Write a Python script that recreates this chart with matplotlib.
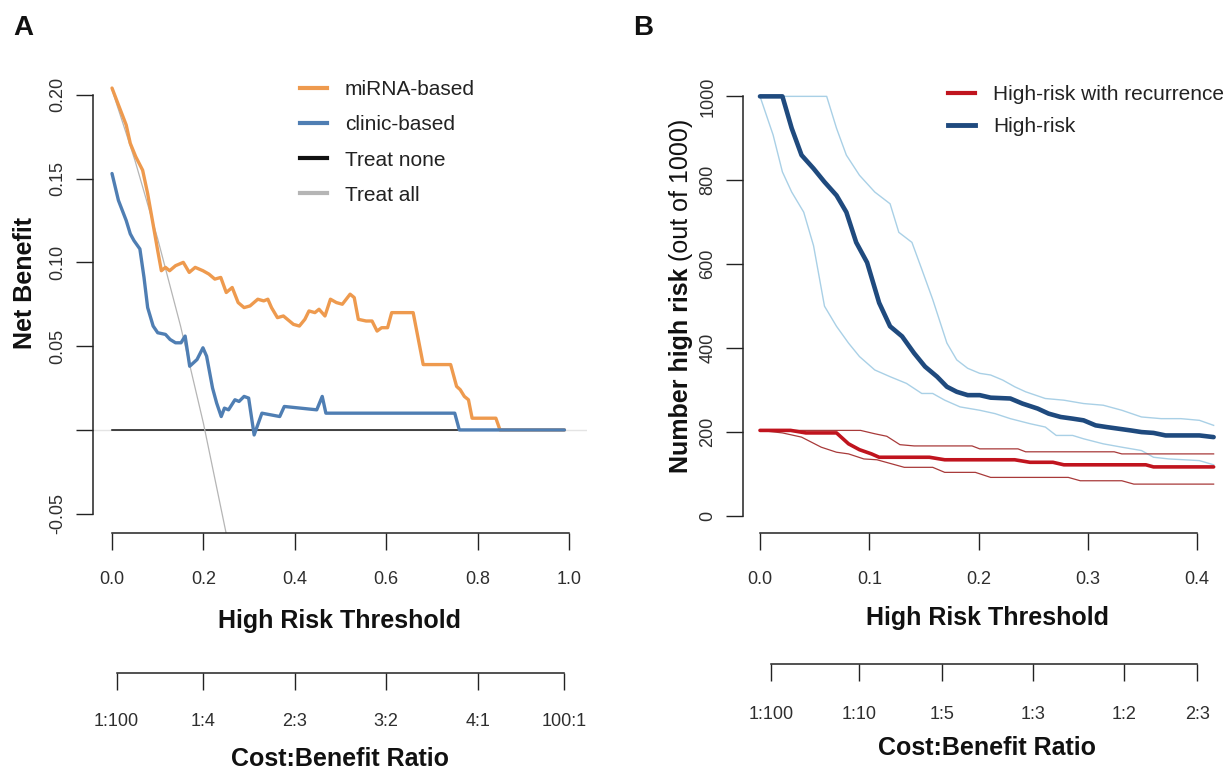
import matplotlib
matplotlib.use("Agg")
import matplotlib.pyplot as plt
from matplotlib.lines import Line2D

plt.rcParams['font.family'] = ['Liberation Sans', 'DejaVu Sans']

# ---------------- Panel A: decision curves ----------------
thr_mirna = [0.000, 0.014, 0.031, 0.040, 0.052, 0.067, 0.078, 0.091, 0.100, 0.108,
             0.117, 0.126, 0.139, 0.156, 0.169, 0.182, 0.199, 0.212, 0.225, 0.238,
             0.250, 0.263, 0.276, 0.289, 0.302, 0.319, 0.332, 0.341, 0.349, 0.362,
             0.375, 0.397, 0.410, 0.422, 0.431, 0.444, 0.453, 0.466, 0.478, 0.491,
             0.504, 0.521, 0.530, 0.539, 0.556, 0.569, 0.580, 0.590, 0.603, 0.612,
             0.659, 0.681, 0.741, 0.754, 0.762, 0.771, 0.780, 0.788, 0.840, 0.849,
             0.990]
nb_mirna = [0.204, 0.194, 0.182, 0.171, 0.163, 0.155, 0.141, 0.121, 0.107, 0.095,
            0.097, 0.095, 0.098, 0.100, 0.094, 0.097, 0.095, 0.093, 0.090, 0.091,
            0.082, 0.085, 0.076, 0.073, 0.074, 0.078, 0.077, 0.078, 0.073, 0.067,
            0.068, 0.063, 0.062, 0.066, 0.071, 0.070, 0.072, 0.068, 0.078, 0.076,
            0.075, 0.081, 0.079, 0.066, 0.065, 0.065, 0.059, 0.061, 0.061, 0.070,
            0.070, 0.039, 0.039, 0.026, 0.024, 0.020, 0.018, 0.007, 0.007, 0.000,
            0.000]

thr_clinic = [0.000, 0.014, 0.031, 0.040, 0.048, 0.061, 0.070, 0.078, 0.090, 0.100,
              0.117, 0.127, 0.139, 0.151, 0.160, 0.170, 0.186, 0.199, 0.207, 0.220,
              0.229, 0.239, 0.246, 0.255, 0.269, 0.278, 0.289, 0.299, 0.311, 0.328,
              0.367, 0.377, 0.448, 0.460, 0.468, 0.750, 0.760, 0.990]
nb_clinic = [0.153, 0.137, 0.125, 0.117, 0.113, 0.108, 0.091, 0.073, 0.062, 0.058,
             0.057, 0.054, 0.052, 0.052, 0.056, 0.038, 0.042, 0.049, 0.044, 0.025,
             0.016, 0.008, 0.013, 0.012, 0.018, 0.017, 0.020, 0.019, -0.003, 0.010,
             0.008, 0.014, 0.012, 0.020, 0.010, 0.010, 0.000, 0.000]

thr_all = [0.00, 0.05, 0.10, 0.15, 0.20, 0.25, 0.27]
nb_all = [0.203, 0.161, 0.114, 0.062, 0.004, -0.062, -0.090]

thr_none = [0.00, 0.99]
nb_none = [0.0, 0.0]

a_legend = ['miRNA-based', 'clinic-based', 'Treat none', 'Treat all']
a_xticks = [0.0, 0.2, 0.4, 0.6, 0.8, 1.0]
a_xticklabels = ['0.0', '0.2', '0.4', '0.6', '0.8', '1.0']
a_yticks = [-0.05, 0.00, 0.05, 0.10, 0.15, 0.20]
a_yticklabels = ['-0.05', '', '0.05', '0.10', '0.15', '0.20']
a_ratios = [(1, 100), (1, 4), (2, 3), (3, 2), (4, 1), (100, 1)]

# ---------------- Panel B: clinical impact ----------------
thr_hr = [0.000, 0.0205, 0.029, 0.038, 0.049, 0.059, 0.070, 0.079, 0.088, 0.098,
          0.109, 0.119, 0.130, 0.141, 0.151, 0.162, 0.171, 0.180, 0.190, 0.201,
          0.211, 0.229, 0.240, 0.254, 0.264, 0.275, 0.286, 0.296, 0.307, 0.317,
          0.328, 0.339, 0.349, 0.360, 0.371, 0.402, 0.415]
n_hr = [1000, 1000, 924, 860, 828, 796, 764, 724, 652, 604,
        508, 452, 428, 388, 356, 332, 308, 296, 288, 288,
        282, 280, 268, 256, 244, 236, 232, 228, 216, 212,
        208, 204, 200, 198, 192, 192, 188]

thr_hr_hi = [0.000, 0.061, 0.070, 0.079, 0.091, 0.105, 0.119, 0.127, 0.139, 0.148,
             0.158, 0.171, 0.180, 0.190, 0.201, 0.211, 0.222, 0.233, 0.243, 0.261,
             0.278, 0.296, 0.314, 0.331, 0.349, 0.367, 0.385, 0.402, 0.415]
n_hr_hi = [1000, 1000, 924, 860, 812, 772, 744, 676, 652, 588,
           516, 412, 372, 352, 340, 336, 324, 308, 296, 280,
           276, 268, 264, 252, 236, 232, 232, 228, 216]

thr_hr_lo = [0.000, 0.012, 0.0205, 0.029, 0.040, 0.049, 0.059, 0.070, 0.081, 0.091,
             0.105, 0.119, 0.134, 0.148, 0.158, 0.169, 0.183, 0.201, 0.215, 0.229,
             0.247, 0.261, 0.271, 0.286, 0.296, 0.314, 0.331, 0.349, 0.360, 0.374,
             0.402, 0.415]
n_hr_lo = [1000, 908, 820, 772, 724, 644, 500, 452, 412, 380,
           348, 332, 316, 292, 292, 276, 260, 252, 244, 232,
           220, 212, 192, 192, 184, 172, 164, 156, 140, 136,
           132, 122]

thr_rec = [0.000, 0.028, 0.042, 0.070, 0.081, 0.091, 0.102, 0.109, 0.155, 0.169,
           0.233, 0.247, 0.268, 0.278, 0.353, 0.360, 0.415]
n_rec = [204, 204, 198, 198, 172, 158, 148, 140, 140, 134,
         134, 128, 128, 122, 122, 117, 117]

thr_rec_hi = [0.000, 0.092, 0.105, 0.116, 0.128, 0.141, 0.194, 0.201, 0.236, 0.243,
              0.324, 0.331, 0.415]
n_rec_hi = [204, 204, 196, 190, 170, 167, 167, 160, 160, 153,
            153, 148, 148]

thr_rec_lo = [0.000, 0.0205, 0.038, 0.056, 0.070, 0.081, 0.095, 0.107, 0.132, 0.158,
              0.169, 0.197, 0.211, 0.282, 0.293, 0.331, 0.342, 0.415]
n_rec_lo = [204, 198, 188, 164, 152, 148, 136, 134, 116, 116,
            104, 104, 92, 92, 84, 84, 76, 76]

b_legend = ['High-risk with recurrence', 'High-risk']
b_xticks = [0.0, 0.1, 0.2, 0.3, 0.4]
b_xticklabels = ['0.0', '0.1', '0.2', '0.3', '0.4']
b_yticks = [0, 200, 400, 600, 800, 1000]
b_yticklabels = ['0', '200', '400', '600', '800', '1000']
b_ratios = [(1, 100), (1, 10), (1, 5), (1, 3), (1, 2), (2, 3)]

# ---------------- styling ----------------
C_MIRNA = '#EE9A4E'
C_CLINIC = '#4F7EB3'
C_NONE = '#111111'
C_ALL = '#B5B5B5'
C_NAVY = '#1F4A7E'
C_LBLUE = '#A9D0E6'
C_RED = '#C0141E'
C_DRED = '#A83A3A'
INK = '#222222'
TICK_INK = '#2E2E2E'

W, H = 1226, 770
fig = plt.figure(figsize=(W / 100, H / 100), dpi=100)
fig.patch.set_facecolor('white')


def px_axes(left, top, right, bottom):
    return fig.add_axes([left / W, 1 - bottom / H, (right - left) / W, (bottom - top) / H])


def ratio_pos(r):
    return r[0] / (r[0] + r[1])


def style_axes(ax, xb, yb):
    for s in ('top', 'right'):
        ax.spines[s].set_visible(False)
    for s in ('left', 'bottom'):
        ax.spines[s].set_color(INK)
        ax.spines[s].set_linewidth(1.1)
    ax.spines['left'].set_bounds(*yb)
    ax.spines['bottom'].set_bounds(*xb)
    ax.tick_params(axis='both', direction='out', length=12, width=1.0, color=INK,
                   labelsize=13, labelcolor=TICK_INK)
    ax.tick_params(axis='x', pad=15)
    ax.tick_params(axis='y', pad=7)
    ax.set_facecolor('none')


def cost_axis(ax, loc, ratios, pad):
    sec = ax.secondary_xaxis(loc)
    pos = [ratio_pos(r) for r in ratios]
    sec.set_xticks(pos, labels=[f'{a}:{b}' for a, b in ratios])
    sec.spines['top'].set_visible(False)
    sec.spines['bottom'].set_bounds(pos[0], pos[-1])
    sec.spines['bottom'].set_color(INK)
    sec.spines['bottom'].set_linewidth(1.1)
    sec.tick_params(axis='x', direction='out', length=12, width=1.0, color=INK,
                    labelsize=13, labelcolor=TICK_INK, pad=pad)
    return sec


# ---------- Panel A ----------
axA = px_axes(93, 78, 587, 533)
axA.set_xlim(-0.0416, 1.0394)
axA.set_ylim(-0.0615, 0.21)
axA.axhline(0, color='#E4E4E4', lw=1.0, zorder=1)
axA.plot(thr_none, nb_none, color=C_NONE, lw=1.1, zorder=2)
axA.plot(thr_all, nb_all, color=C_ALL, lw=0.9, zorder=2)
axA.plot(thr_mirna, nb_mirna, color=C_MIRNA, lw=2.4, zorder=3,
         solid_joinstyle='round', solid_capstyle='round')
axA.plot(thr_clinic, nb_clinic, color=C_CLINIC, lw=2.4, zorder=4,
         solid_joinstyle='round', solid_capstyle='round')
style_axes(axA, (0, 1), (-0.05, 0.20))
axA.set_xticks(a_xticks, labels=a_xticklabels)
axA.set_yticks(a_yticks)
axA.set_yticklabels(a_yticklabels, rotation=90, va='center')
cost_axis(axA, (533 - 673) / (533 - 78), a_ratios, 17)

hA = [Line2D([], [], color=C_MIRNA, lw=3),
      Line2D([], [], color=C_CLINIC, lw=3),
      Line2D([], [], color=C_NONE, lw=3),
      Line2D([], [], color=C_ALL, lw=3)]
legA = axA.legend(hA, a_legend, loc='upper left', bbox_to_anchor=(300 / W, 1 - 80 / H),
                  bbox_transform=fig.transFigure, frameon=False, fontsize=15,
                  handlelength=1.3, handletextpad=0.85, labelspacing=0.78,
                  borderpad=0, borderaxespad=0)
for t in legA.get_texts():
    t.set_color(INK)

# ---------- Panel B ----------
axB = px_axes(743, 80, 1232, 533)
axB.set_xlim(-0.01555, 0.4318)
axB.set_ylim(-40.5, 1039)
axB.plot(thr_hr_hi, n_hr_hi, color=C_LBLUE, lw=1.0, zorder=2)
axB.plot(thr_hr_lo, n_hr_lo, color=C_LBLUE, lw=1.0, zorder=2)
axB.plot(thr_rec_hi, n_rec_hi, color=C_DRED, lw=0.9, zorder=2)
axB.plot(thr_rec_lo, n_rec_lo, color=C_DRED, lw=0.9, zorder=2)
axB.plot(thr_rec, n_rec, color=C_RED, lw=2.6, zorder=3,
         solid_joinstyle='round', solid_capstyle='round')
axB.plot(thr_hr, n_hr, color=C_NAVY, lw=3.3, zorder=4,
         solid_joinstyle='round', solid_capstyle='round')
style_axes(axB, (0, 0.4), (0, 1000))
axB.set_xticks(b_xticks, labels=b_xticklabels)
axB.set_yticks(b_yticks)
axB.set_yticklabels(b_yticklabels, rotation=90, va='center')
cost_axis(axB, (533 - 664) / (533 - 80), b_ratios, 18)

hB = [Line2D([], [], color=C_RED, lw=3), Line2D([], [], color=C_NAVY, lw=3.5)]
legB = axB.legend(hB, b_legend, loc='upper left', bbox_to_anchor=(948 / W, 1 - 85 / H),
                  bbox_transform=fig.transFigure, frameon=False, fontsize=15,
                  handlelength=1.3, handletextpad=0.85, labelspacing=0.62,
                  borderpad=0, borderaxespad=0)
for t in legB.get_texts():
    t.set_color(INK)

# ---------- panel letters and axis titles ----------
bold = dict(fontweight='bold', color='#111111')
fig.text(23 / W, 1 - 35 / H, 'A', fontsize=20, ha='center', va='baseline', **bold)
fig.text(643 / W, 1 - 35 / H, 'B', fontsize=20, ha='center', va='baseline', **bold)

fig.text(340 / W, 1 - 628 / H, 'High Risk Threshold', fontsize=18, ha='center', va='baseline', **bold)
fig.text(340 / W, 1 - 766 / H, 'Cost:Benefit Ratio', fontsize=18, ha='center', va='baseline', **bold)
fig.text(987 / W, 1 - 625 / H, 'High Risk Threshold', fontsize=18, ha='center', va='baseline', **bold)
fig.text(987 / W, 1 - 755 / H, 'Cost:Benefit Ratio', fontsize=18, ha='center', va='baseline', **bold)

fig.text(32 / W, 1 - 283 / H, 'Net Benefit', fontsize=18, rotation=90,
         rotation_mode='anchor', ha='center', va='baseline', **bold)

t1 = fig.text(688 / W, 1 - 473 / H, 'Number high risk', fontsize=18, rotation=90,
              rotation_mode='anchor', ha='left', va='baseline', **bold)
fig.canvas.draw()
bb = t1.get_window_extent(renderer=fig.canvas.get_renderer())
gap = 0.278 * 18 * 100 / 72
fig.text(688 / W, (bb.y1 + gap) / H, '(out of 1000)', fontsize=18, rotation=90,
         rotation_mode='anchor', ha='left', va='baseline', color='#111111')

fig.savefig('out.png', dpi=100, facecolor='white')
